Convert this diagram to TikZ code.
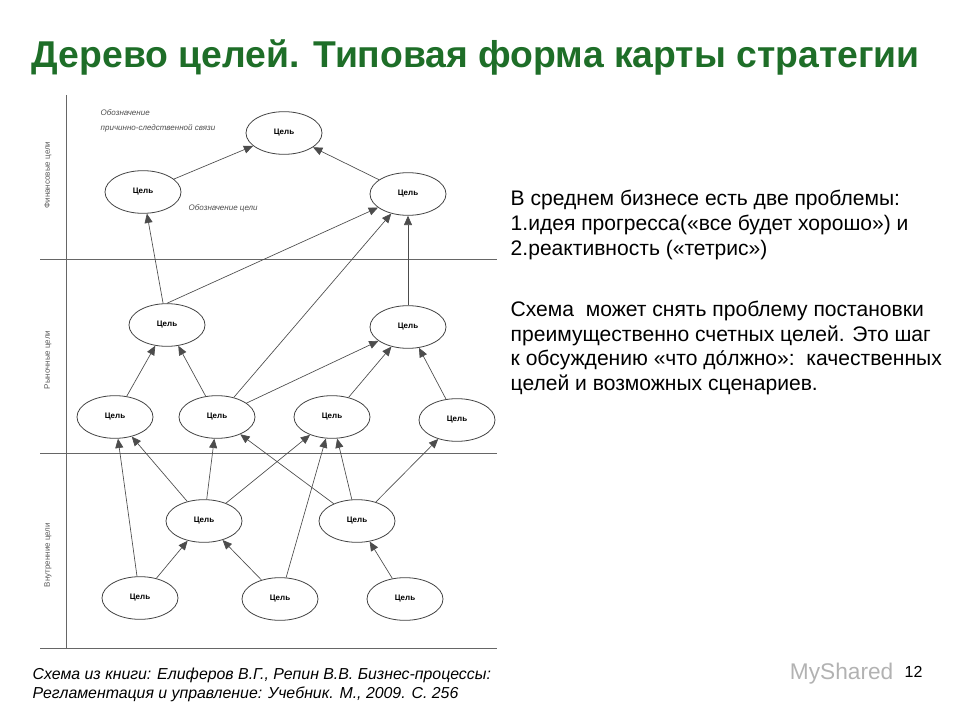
\documentclass[tikz,border=0pt]{standalone}
\usepackage{fontspec}
\setmainfont{Liberation Sans}
\usetikzlibrary{shapes.geometric,arrows.meta}
\definecolor{ttl}{RGB}{30,110,40}
\tikzset{
 goal/.style={ellipse,draw=black!75,line width=0.6pt,minimum width=57pt,minimum height=32pt,inner sep=0pt,font=\fontsize{6}{7}\selectfont\bfseries},
 link/.style={draw=black!70,line width=0.5pt,-{Triangle[length=7pt,width=6pt]}},
 sep/.style={draw=black!60,line width=0.6pt},
 side/.style={rotate=90,font=\fontsize{6}{7}\selectfont,text=black!65},
 note/.style={font=\fontsize{6}{7}\selectfont\itshape,text=black!70,anchor=west},
 body/.style={font=\fontsize{15.8}{18}\selectfont,anchor=west}
}
\begin{document}
\begin{tikzpicture}[x=0.75pt,y=-0.75pt]
\useasboundingbox (0,0) rectangle (960,720);
\node[anchor=west,font=\fontsize{28}{33}\selectfont\bfseries,text=ttl] (title) at (27,57) {Дерево целей. Типовая форма карты стратегии};
% frame lines
\coordinate (v1) at (66,95); \coordinate (v2) at (66,648);
\draw[sep] (v1) -- (v2);
\coordinate (h1a) at (40,259); \coordinate (h1b) at (497,259);
\coordinate (h2a) at (40,453); \coordinate (h2b) at (497,453);
\coordinate (h3a) at (40,648); \coordinate (h3b) at (497,648);
\draw[sep] (h1a) -- (h1b); \draw[sep] (h2a) -- (h2b); \draw[sep] (h3a) -- (h3b);
\node[side] (s1) at (48,175) {Финансовые цели};
\node[side] (s2) at (48,360) {Рыночные цели};
\node[side] (s3) at (48,555) {Внутренние цели};
\node[note] (n1) at (96,113) {Обозначение};
\node[note] (n2) at (96,128) {причинно-следственной связи};
\node[note] (n3) at (184,208) {Обозначение цели};
% goals
\node[goal] (T) at (284,133) {Цель};
\node[goal] (F1) at (143,192) {Цель};
\node[goal] (F2) at (408,194) {Цель};
\node[goal] (M1) at (167,325) {Цель};
\node[goal] (M2) at (408,327) {Цель};
\node[goal] (R1) at (115,417) {Цель};
\node[goal] (R2) at (217,417) {Цель};
\node[goal] (R3) at (332,417) {Цель};
\node[goal] (R4) at (457,420) {Цель};
\node[goal] (I1) at (204,521) {Цель};
\node[goal] (I2) at (357,521) {Цель};
\node[goal] (B1) at (140,598) {Цель};
\node[goal] (B2) at (280,599) {Цель};
\node[goal] (B3) at (405,599) {Цель};
% links
\draw[link] (F1) -- (T);
\draw[link] (F2) -- (T);
\draw[link] (M1) -- (F1);
\draw[link] (M1.north) -- (F2);
\draw[link] (R2) -- (F2);
\draw[link] (M2) -- (F2);
\draw[link] (R1) -- (M1);
\draw[link] (R2) -- (M1);
\draw[link] (R2) -- (M2);
\draw[link] (R3) -- (M2);
\draw[link] (R4) -- (M2);
\draw[link] (B1) -- (R1);
\draw[link] (I1) -- (R1);
\draw[link] (I1) -- (R2);
\draw[link] (I2) -- (R2);
\draw[link] (I1) -- (R3);
\draw[link] (B2) -- (R3);
\draw[link] (I2) -- (R3);
\draw[link] (I2) -- (R4);
\draw[link] (B1) -- (I1);
\draw[link] (B2) -- (I1);
\draw[link] (B3) -- (I2);
% text
\node[body] (t1) at (506,200) {В среднем бизнесе есть две проблемы:};
\node[body] (t2) at (506,225) {1.идея прогресса(«все будет хорошо») и};
\node[body] (t3) at (506,250) {2.реактивность («тетрис»)};
\node[body] (t4) at (506,311) {Схема\ \ может снять проблему постановки};
\node[body] (t5) at (506,336) {преимущественно счетных целей. Это шаг};
\node[body] (t6) at (506,360) {к обсуждению «что до́лжно»:\ \ качественных};
\node[body] (t7) at (506,385) {целей и возможных сценариев.};
\node[anchor=west,font=\fontsize{11.9}{14}\selectfont\itshape] (f1) at (28,675) {Схема из книги: Елиферов В.Г., Репин В.В. Бизнес-процессы:};
\node[anchor=west,font=\fontsize{11.9}{14}\selectfont\itshape] (f2) at (28,694) {Регламентация и управление: Учебник. М., 2009. С. 256};
\node[anchor=east,font=\fontsize{17}{20}\selectfont,text=black!30] (logo) at (898,674) {MyShared};
\node[anchor=west,font=\fontsize{12}{14}\selectfont] (pg) at (900,672) {12};
\end{tikzpicture}
\end{document}
